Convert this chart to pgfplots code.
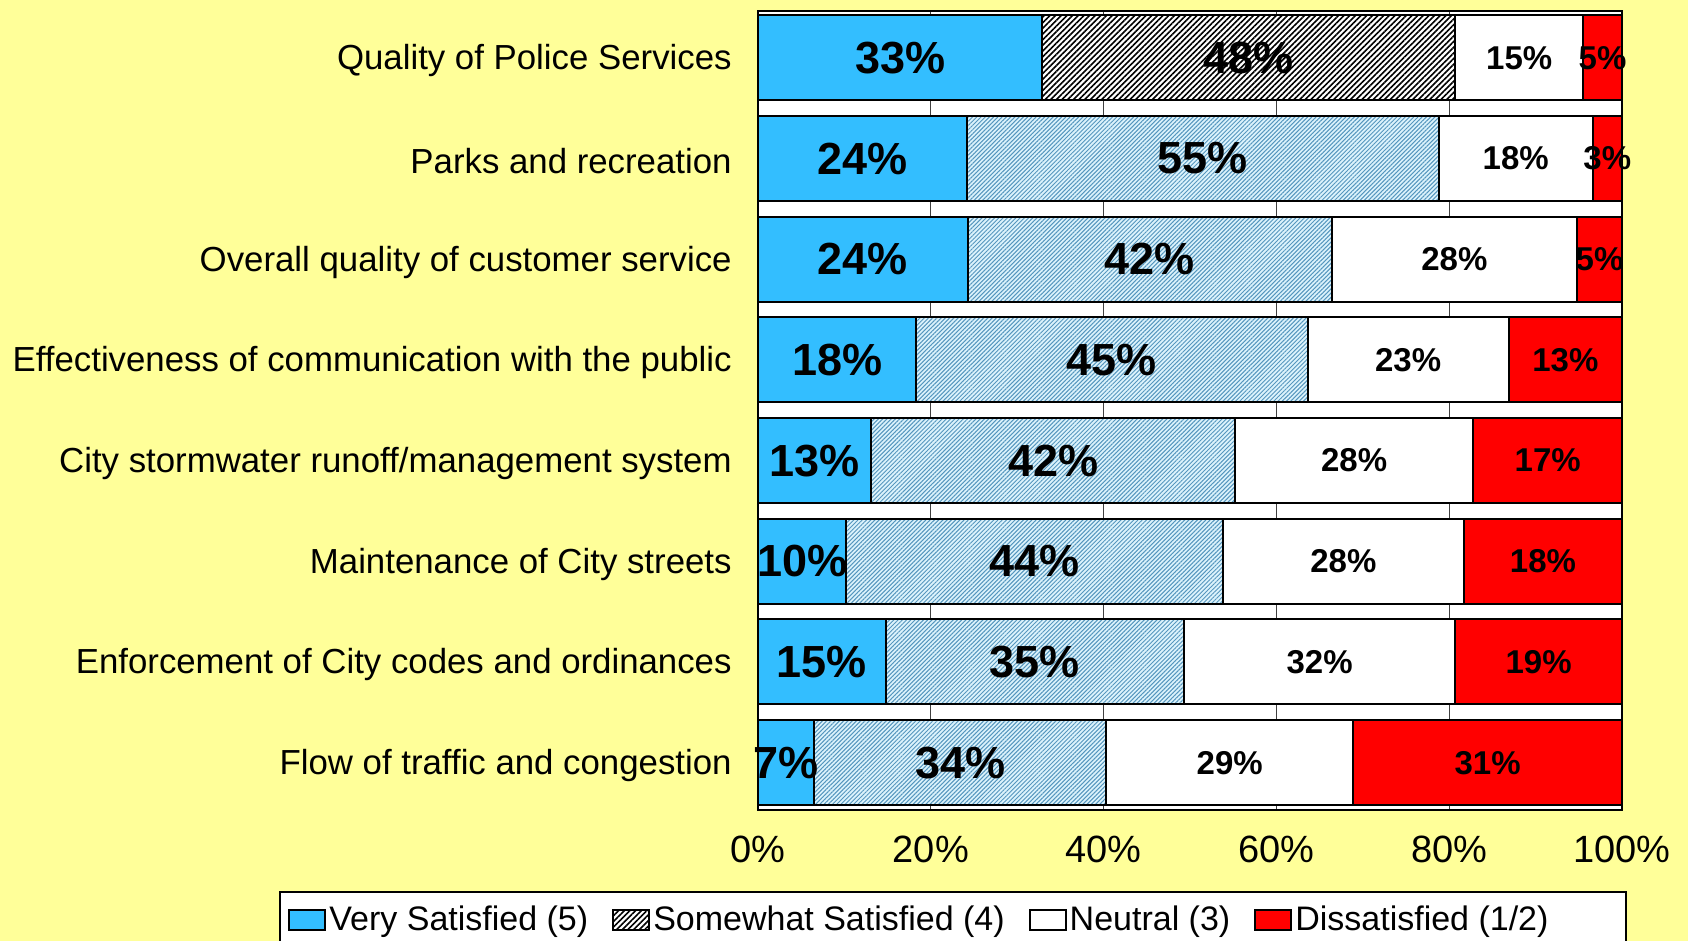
\documentclass[border=0pt]{standalone}
\usepackage{pgfplots}
\pgfplotsset{compat=1.18}
\usepackage{fontspec}
\setmainfont{Liberation Sans}
\usetikzlibrary{patterns,patterns.meta}
\definecolor{bgyellow}{RGB}{255,255,153}
\definecolor{vsblue}{RGB}{51,190,255}
\definecolor{hatchbg}{RGB}{220,243,252}
\definecolor{hatchline}{RGB}{85,150,190}
\definecolor{dissred}{RGB}{255,0,0}
\pgfplotsset{
  chartgeom/.style={
    at={(379pt,-5.5pt)}, anchor=north west,
    width=432pt, height=399.25pt, scale only axis,
    xmin=0, xmax=100, ymin=-0.465, ymax=7.465, y dir=reverse,
    clip=false},
  bigl/.style={every node near coord/.append style={font=\fontsize{22.5}{26}\selectfont\bfseries}},
  smalll/.style={every node near coord/.append style={font=\fontsize{16.5}{19}\selectfont\bfseries}},
}
\begin{document}
\begin{tikzpicture}
\path[use as bounding box, fill=bgyellow] (0,0) rectangle (844pt,-470.5pt);
\draw[fill=white, line width=1pt] (140pt,-446pt) rectangle (812.75pt,-495pt);
\begin{axis}[
  chartgeom,
  xbar stacked, bar width=0.844,
  axis background/.style={fill=white},
  axis line style={line width=1pt, black},
  xmajorgrids, major grid style={black!75, line width=0.5pt},
  major tick length=0pt,
  ytick={0,...,7},
  yticklabels={Quality of Police Services, Parks and recreation, Overall quality of customer service, Effectiveness of communication with the public, City stormwater runoff/management system, Maintenance of City streets, Enforcement of City codes and ordinances, Flow of traffic and congestion},
  xtick={0,20,...,100},
  xticklabel={\pgfmathprintnumber{\tick}\%},
  /pgf/number format/assume math mode=true,
  xticklabel style={font=\fontsize{19}{22}\selectfont, anchor=north, inner sep=0pt, yshift=-13pt},
  yticklabel style={font=\fontsize{17.4}{20}\selectfont, anchor=east, inner sep=0pt, xshift=-13pt, yshift=-1.5pt},
  every axis plot/.append style={line width=1pt, draw=black},
  legend image code/.code={\draw[#1, line width=1pt] (0pt,-5pt) rectangle (18pt,5pt);},
  legend columns=4,
  legend entries={Very Satisfied (5),Somewhat Satisfied (4),,Neutral (3),Dissatisfied (1/2)},
  legend style={draw=none, fill=none, at={(-0.544,-0.1384)}, anchor=west, inner sep=0pt,
    font=\fontsize{17}{20}\selectfont, nodes={inner sep=0pt},
    /tikz/every odd column/.append style={column sep=1.5pt},
    /tikz/every even column/.append style={column sep=12pt}},
]
\addplot[fill=vsblue] coordinates {
 (32.9,0) (24.2,1) (24.3,2) (18.3,3) (13.1,4) (10.2,5) (14.8,6) (6.5,7)};
\addplot[fill=white, postaction={pattern color=black, pattern={Lines[angle=45,distance=2pt,line width=0.8pt]}}] coordinates {
 (47.8,0) (0,1) (0,2) (0,3) (0,4) (0,5) (0,6) (0,7)};
\addplot[fill=hatchbg, postaction={pattern color=hatchline, pattern={Lines[angle=45,distance=1.5pt,line width=0.5pt]}}] coordinates {
 (0,0) (54.6,1) (42.1,2) (45.3,3) (42.1,4) (43.6,5) (34.5,6) (33.8,7)};
\addplot[fill=white] coordinates {
 (14.8,0) (17.8,1) (28.4,2) (23.3,3) (27.6,4) (27.9,5) (31.4,6) (28.6,7)};
\addplot[fill=dissred] coordinates {
 (4.5,0) (3.4,1) (5.2,2) (13.1,3) (17.2,4) (18.3,5) (19.3,6) (31.1,7)};
\end{axis}
% value labels, centred in each segment
\begin{axis}[
  chartgeom, hide axis,
  point meta=explicit symbolic,
  nodes near coords={\pgfplotspointmeta},
  every node near coord/.append style={anchor=center, inner sep=0pt},
]
\addplot[draw=none, mark=none, bigl] coordinates {
 (16.45,0) [33\%] (12.1,1) [24\%] (12.15,2) [24\%] (9.15,3) [18\%]
 (6.55,4) [13\%] (5.1,5) [10\%] (7.4,6) [15\%] (3.25,7) [7\%]};
\addplot[draw=none, mark=none, bigl] coordinates {
 (56.8,0) [48\%] (51.5,1) [55\%] (45.35,2) [42\%] (40.95,3) [45\%]
 (34.15,4) [42\%] (32.0,5) [44\%] (32.05,6) [35\%] (23.4,7) [34\%]};
\addplot[draw=none, mark=none, smalll] coordinates {
 (88.1,0) [15\%] (87.7,1) [18\%] (80.6,2) [28\%] (75.25,3) [23\%]
 (69.0,4) [28\%] (67.75,5) [28\%] (65.0,6) [32\%] (54.6,7) [29\%]};
\addplot[draw=none, mark=none, smalll] coordinates {
 (97.75,0) [5\%] (98.3,1) [3\%] (97.4,2) [5\%] (93.45,3) [13\%]
 (91.4,4) [17\%] (90.85,5) [18\%] (90.35,6) [19\%] (84.45,7) [31\%]};
\end{axis}
\end{tikzpicture}
\end{document}
